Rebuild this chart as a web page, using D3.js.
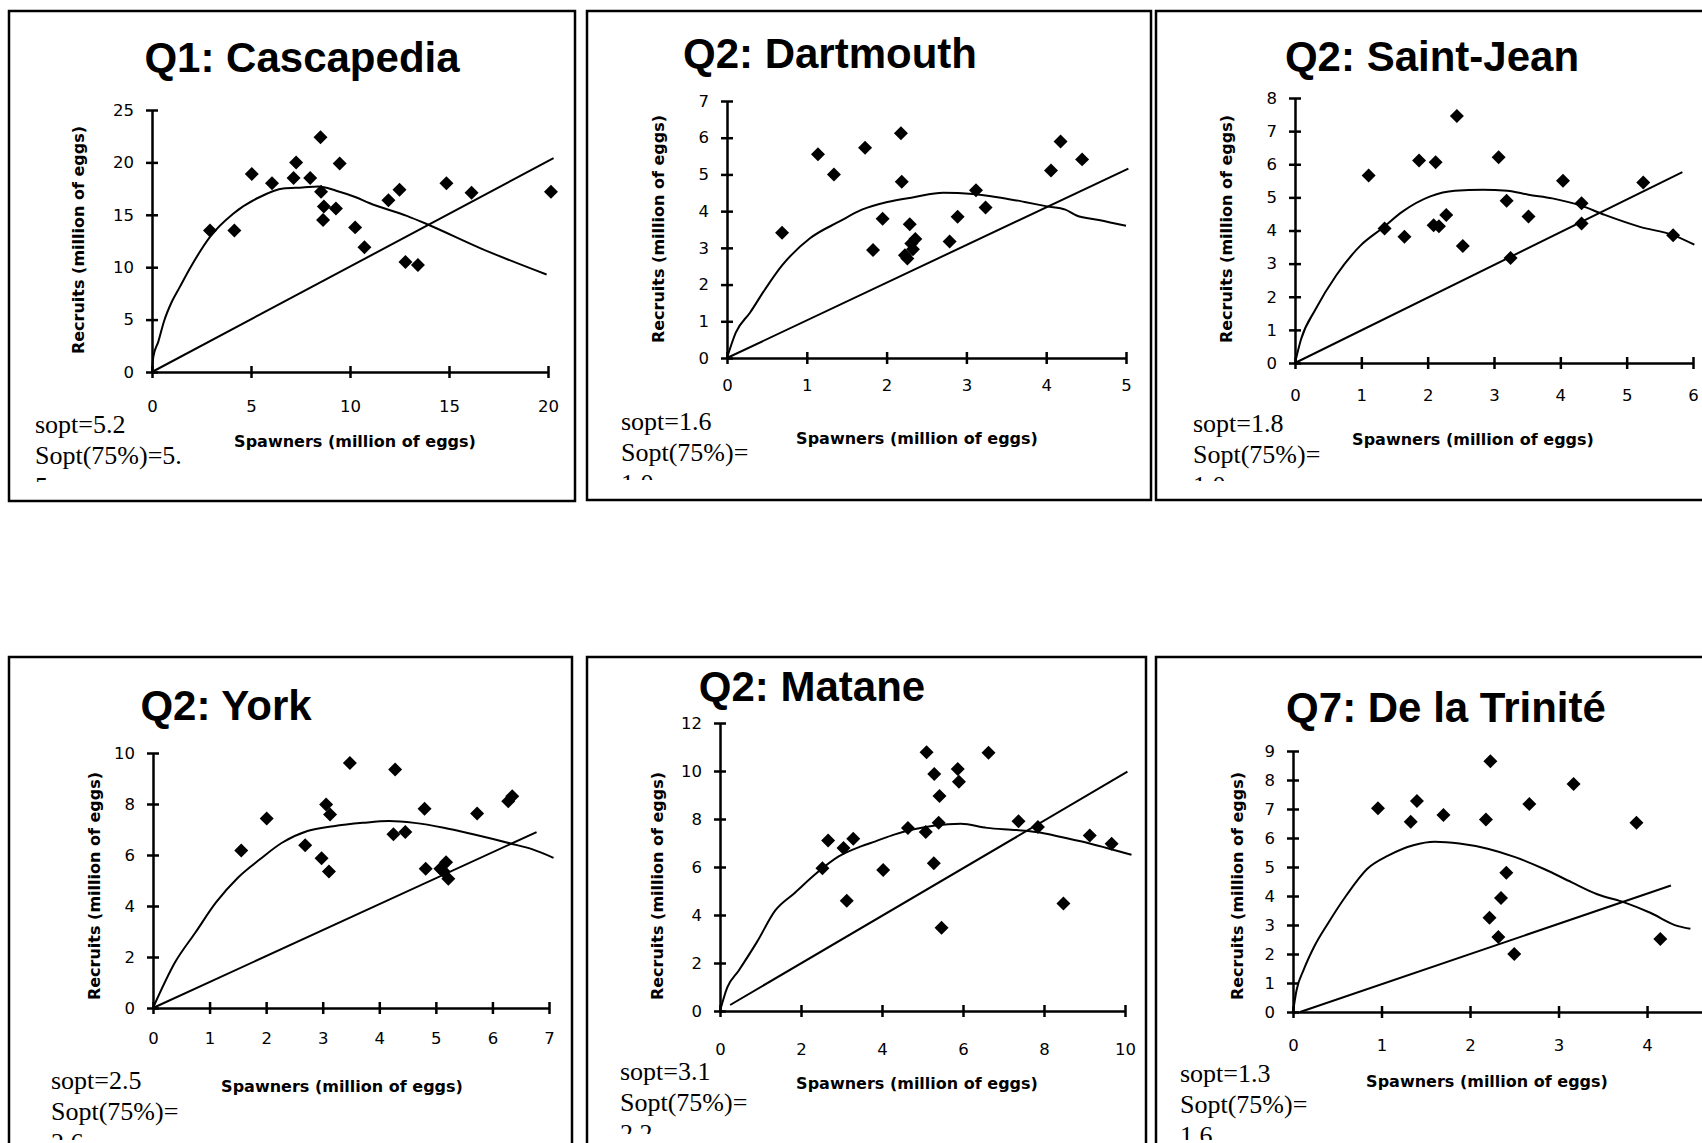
<!DOCTYPE html>
<html>
<head>
<meta charset="utf-8">
<script src="https://cdn.jsdelivr.net/npm/d3@7"></script>
<style>
  body { margin: 0; background: #fff; }
  svg { display: block; }
</style>
</head>
<body>
<svg id="fig" width="1702" height="1143"></svg>
<script>
// ---- data (spawners, recruits in million of eggs) ----
const titles = ["Q1: Cascapedia", "Q2: Dartmouth", "Q2: Saint-Jean", "Q2: York", "Q2: Matane", "Q7: De la Trinité"];

const xTicks = [[0, 5, 10, 15, 20], [0, 1, 2, 3, 4, 5], [0, 1, 2, 3, 4, 5, 6],
                [0, 1, 2, 3, 4, 5, 6, 7], [0, 2, 4, 6, 8, 10], [0, 1, 2, 3, 4]];
const yTicks = [[0, 5, 10, 15, 20, 25], [0, 1, 2, 3, 4, 5, 6, 7], [0, 1, 2, 3, 4, 5, 6, 7, 8],
                [0, 2, 4, 6, 8, 10], [0, 2, 4, 6, 8, 10, 12], [0, 1, 2, 3, 4, 5, 6, 7, 8, 9]];

const soptText = ["sopt=5.2", "sopt=1.6", "sopt=1.8", "sopt=2.5", "sopt=3.1", "sopt=1.3"];
const sopt75Text = ["Sopt(75%)=5.", "Sopt(75%)=", "Sopt(75%)=", "Sopt(75%)=", "Sopt(75%)=", "Sopt(75%)="];
const sopt75Tail = ["5", "1.0", "1.0", "2.6", "2.2", "1.6"];

const cascapediaPoints = [[2.93, 13.5], [4.16, 13.5], [5.04, 18.9], [6.06, 18.0], [7.28, 20.0], [7.15, 18.5],
  [7.99, 18.5], [8.51, 22.4], [8.54, 17.2], [8.68, 15.8], [8.64, 14.5], [9.29, 15.6], [9.48, 19.9],
  [10.26, 13.8], [10.73, 11.9], [11.94, 16.4], [12.5, 17.4], [12.8, 10.5], [13.43, 10.2], [14.87, 18.0],
  [16.14, 17.1], [20.15, 17.2]];
const cascapediaFit = [[0, 0], [0.07, 1.5], [0.32, 2.9], [0.6, 4.8], [1.0, 6.7], [1.4, 8.1], [1.92, 9.9],
  [2.93, 12.9], [4.1, 15.1], [5.45, 16.7], [6.63, 17.5], [7.6, 17.6], [8.4, 17.7], [9.3, 17.3],
  [10.26, 16.7], [11.0, 16.1], [12.87, 14.9], [13.9, 14.1], [16.6, 11.8], [19.93, 9.3]];
const cascapediaLine = [[0, 0], [20.28, 20.4]];

const dartmouthPoints = [[0.69, 3.41], [1.14, 5.55], [1.34, 5.0], [1.73, 5.73], [1.83, 2.94], [1.95, 3.79],
  [2.18, 6.12], [2.19, 4.80], [2.29, 3.64], [2.23, 2.80], [2.26, 2.71], [2.31, 3.12], [2.36, 3.24],
  [2.33, 2.96], [2.79, 3.17], [2.89, 3.85], [3.12, 4.57], [3.24, 4.10], [4.06, 5.11], [4.18, 5.90],
  [4.45, 5.41]];
const dartmouthFit = [[0, 0], [0.11, 0.69], [0.29, 1.24], [0.48, 1.88], [0.69, 2.52], [1.04, 3.26],
  [1.41, 3.72], [1.69, 4.04], [2.01, 4.25], [2.34, 4.38], [2.71, 4.50], [3.08, 4.47], [3.45, 4.36],
  [3.73, 4.25], [4.01, 4.13], [4.24, 4.04], [4.38, 3.88], [4.66, 3.76], [5.0, 3.60]];
const dartmouthLine = [[0, 0], [5.03, 5.16]];

const saintJeanPoints = [[1.11, 5.66], [1.35, 4.06], [1.65, 3.81], [1.87, 6.11], [2.12, 6.06], [2.09, 4.16],
  [2.17, 4.13], [2.28, 4.47], [2.44, 7.46], [2.53, 3.53], [3.07, 6.21], [3.19, 4.90], [3.25, 3.17],
  [3.52, 4.42], [4.04, 5.50], [4.32, 4.82], [4.32, 4.21], [5.25, 5.45], [5.70, 3.86]];
const saintJeanFit = [[0, 0], [0.09, 0.71], [0.31, 1.62], [0.62, 2.64], [0.99, 3.55], [1.31, 4.06],
  [1.62, 4.57], [2.04, 5.03], [2.41, 5.20], [2.83, 5.23], [3.2, 5.2], [3.52, 5.08], [3.88, 4.97],
  [4.31, 4.75], [4.67, 4.47], [5.2, 4.11], [5.70, 3.86], [6.02, 3.57]];
const saintJeanLine = [[0, 0], [5.84, 5.76]];

const yorkPoints = [[1.56, 6.18], [2.01, 7.43], [2.69, 6.38], [2.98, 5.87], [3.11, 5.35], [3.06, 7.98],
  [3.13, 7.59], [3.48, 9.61], [4.28, 9.35], [4.25, 6.81], [4.46, 6.90], [4.80, 7.81], [4.82, 5.46],
  [5.08, 5.46], [5.18, 5.72], [5.22, 5.07], [5.13, 5.37], [5.73, 7.63], [6.28, 8.11], [6.35, 8.30]];
const yorkFit = [[0, 0], [0.39, 1.79], [0.75, 2.96], [1.11, 4.13], [1.50, 5.11], [1.89, 5.83], [2.28, 6.48],
  [2.73, 6.94], [3.19, 7.13], [3.71, 7.26], [4.17, 7.33], [4.62, 7.26], [5.14, 7.07], [5.66, 6.81],
  [6.32, 6.45], [6.71, 6.22], [7.08, 5.89]];
const yorkLine = [[0, 0], [6.78, 6.90]];

const matanePoints = [[2.53, 5.95], [2.67, 7.10], [3.05, 6.79], [3.13, 4.59], [3.29, 7.18], [4.03, 5.88],
  [4.64, 7.63], [5.08, 7.46], [5.10, 10.78], [5.29, 9.87], [5.28, 6.16], [5.42, 8.96], [5.40, 7.84],
  [5.47, 3.47], [5.87, 10.08], [5.90, 9.55], [6.63, 10.76], [7.37, 7.91], [7.85, 7.67], [8.48, 4.48],
  [9.13, 7.31], [9.67, 6.97]];
const mataneFit = [[0, 0], [0.18, 0.98], [0.46, 1.68], [0.91, 2.87], [1.37, 4.20], [1.83, 4.90], [2.38, 5.74],
  [2.93, 6.44], [3.48, 6.86], [3.84, 7.07], [4.30, 7.35], [4.76, 7.56], [5.31, 7.73], [5.95, 7.80],
  [6.59, 7.63], [7.32, 7.54], [7.96, 7.42], [8.42, 7.25], [9.15, 6.97], [10.16, 6.51]];
const mataneLine = [[0.25, 0.25], [10.06, 9.97]];

const triniteePoints = [[0.96, 7.03], [1.33, 6.56], [1.40, 7.28], [1.70, 6.79], [2.18, 6.64], [2.23, 8.65],
  [2.22, 3.25], [2.32, 2.59], [2.35, 3.93], [2.41, 4.80], [2.50, 2.00], [2.67, 7.17], [3.17, 7.86],
  [3.88, 6.53], [4.15, 2.52]];
const triniteeFit = [[0, 0], [0.04, 0.75], [0.12, 1.45], [0.24, 2.26], [0.40, 3.08], [0.60, 4.01],
  [0.84, 4.94], [1.08, 5.40], [1.36, 5.75], [1.60, 5.87], [1.88, 5.81], [2.20, 5.63], [2.51, 5.34],
  [2.83, 4.94], [3.15, 4.47], [3.43, 4.07], [3.75, 3.77], [4.03, 3.43], [4.35, 2.96], [4.49, 2.87]];
const triniteeLine = [[0.08, 0], [4.27, 4.36]];

// ---- layout of each panel (pixels) ----
const layout = [
  {frame: [9, 11, 566, 490], x: [152, 548], xMax: 20, y: [372, 110], yMax: 25, tickDy: 40,
   title: [302, 72], ylab: [78, 240], xlab: [355, 447], note: [35, 433], clip: 482},
  {frame: [587, 11, 564, 489], x: [727, 1126], xMax: 5, y: [358, 101], yMax: 7, tickDy: 33,
   title: [830, 68], ylab: [658, 229], xlab: [917, 444], note: [621, 430], clip: 480},
  {frame: [1156, 11, 600, 489], x: [1295, 1693], xMax: 6, y: [363, 98], yMax: 8, tickDy: 38,
   title: [1432, 71], ylab: [1226, 229], xlab: [1473, 445], note: [1193, 432], clip: 481},
  {frame: [9, 657, 563, 520], x: [153, 549], xMax: 7, y: [1008, 753], yMax: 10, tickDy: 36,
   title: [226, 720], ylab: [94, 886], xlab: [342, 1092], note: [51, 1089], clip: 1140},
  {frame: [587, 657, 559, 520], x: [720, 1125], xMax: 10, y: [1011, 723], yMax: 12, tickDy: 44,
   title: [812, 701], ylab: [657, 886], xlab: [917, 1089], note: [620, 1080], clip: 1134},
  {frame: [1156, 657, 600, 520], x: [1293, 1709], xMax: 4.7, y: [1012, 751], yMax: 9, tickDy: 39,
   title: [1446, 722], ylab: [1237, 886], xlab: [1487, 1087], note: [1180, 1082], clip: 1140}
];

const panels = [
  {points: cascapediaPoints, fit: cascapediaFit, line: cascapediaLine},
  {points: dartmouthPoints, fit: dartmouthFit, line: dartmouthLine},
  {points: saintJeanPoints, fit: saintJeanFit, line: saintJeanLine},
  {points: yorkPoints, fit: yorkFit, line: yorkLine},
  {points: matanePoints, fit: mataneFit, line: mataneLine},
  {points: triniteePoints, fit: triniteeFit, line: triniteeLine}
];

const svg = d3.select("#fig");
const defs = svg.append("defs");
const diamond = d3.symbol().type(d3.symbolSquare).size(98);

panels.forEach((p, i) => {
  const L = layout[i];
  const g = svg.append("g");

  g.append("rect")
    .attr("x", L.frame[0]).attr("y", L.frame[1])
    .attr("width", L.frame[2]).attr("height", L.frame[3])
    .attr("fill", "none").attr("stroke", "#000").attr("stroke-width", 2.5);

  const x = d3.scaleLinear().domain([0, L.xMax]).range(L.x);
  const y = d3.scaleLinear().domain([0, L.yMax]).range(L.y);

  // title
  g.append("text")
    .attr("x", L.title[0]).attr("y", L.title[1])
    .attr("text-anchor", "middle")
    .style("font", "bold 42px 'Liberation Sans', Arial, sans-serif")
    .text(titles[i]);

  // axes
  const xAxis = g.append("g")
    .attr("transform", "translate(0," + y(0) + ")")
    .call(d3.axisBottom(x).tickValues(xTicks[i]).tickFormat(d3.format("d")).tickSizeInner(6).tickSizeOuter(0))
    .attr("font-family", "'DejaVu Sans', sans-serif").attr("font-size", 16.5);
  xAxis.select(".domain").attr("stroke-width", 2.5);
  xAxis.selectAll(".tick line").attr("y1", -6).attr("y2", 6).attr("stroke-width", 2.5);
  xAxis.selectAll(".tick text").attr("y", L.tickDy).attr("dy", 0);

  const yAxis = g.append("g")
    .attr("transform", "translate(" + x(0) + ",0)")
    .call(d3.axisLeft(y).tickValues(yTicks[i]).tickFormat(d3.format("d")).tickSizeInner(6).tickSizeOuter(0))
    .attr("font-family", "'DejaVu Sans', sans-serif").attr("font-size", 16.5);
  yAxis.select(".domain").attr("stroke-width", 2.5);
  yAxis.selectAll(".tick line").attr("x1", -6).attr("x2", 6).attr("stroke-width", 2.5);
  yAxis.selectAll(".tick text").attr("x", -18);

  // axis titles
  g.append("text")
    .attr("x", L.xlab[0]).attr("y", L.xlab[1])
    .attr("text-anchor", "middle")
    .style("font", "bold 16px 'DejaVu Sans', sans-serif")
    .text("Spawners (million of eggs)");
  g.append("text")
    .attr("transform", "translate(" + L.ylab[0] + "," + L.ylab[1] + ") rotate(-90)")
    .attr("text-anchor", "middle").attr("dominant-baseline", "central")
    .style("font", "bold 16px 'DejaVu Sans', sans-serif")
    .text("Recruits (million of eggs)");

  // replacement line and fitted curve
  const line = d3.line().x(d => x(d[0])).y(d => y(d[1]));
  g.append("path").datum(p.line).attr("d", line)
    .attr("fill", "none").attr("stroke", "#000").attr("stroke-width", 2);
  g.append("path").datum(p.fit).attr("d", line.curve(d3.curveMonotoneX))
    .attr("fill", "none").attr("stroke", "#000").attr("stroke-width", 2);

  // observations
  g.selectAll(".pt").data(p.points).enter().append("path")
    .attr("class", "pt")
    .attr("d", diamond)
    .attr("transform", d => "translate(" + x(d[0]) + "," + y(d[1]) + ") rotate(45)")
    .attr("fill", "#000");

  // sopt notes, clipped by their text box
  defs.append("clipPath").attr("id", "clip" + i)
    .append("rect").attr("x", L.frame[0]).attr("y", L.frame[1])
    .attr("width", L.frame[2]).attr("height", L.clip - L.frame[1]);
  const note = g.append("text")
    .attr("clip-path", "url(#clip" + i + ")")
    .style("font", "26px 'Liberation Serif', 'Times New Roman', serif");
  [soptText[i], sopt75Text[i], sopt75Tail[i]].forEach((t, k) => {
    note.append("tspan").attr("x", L.note[0]).attr("y", L.note[1] + k * 31).text(t);
  });
});
</script>
</body>
</html>
